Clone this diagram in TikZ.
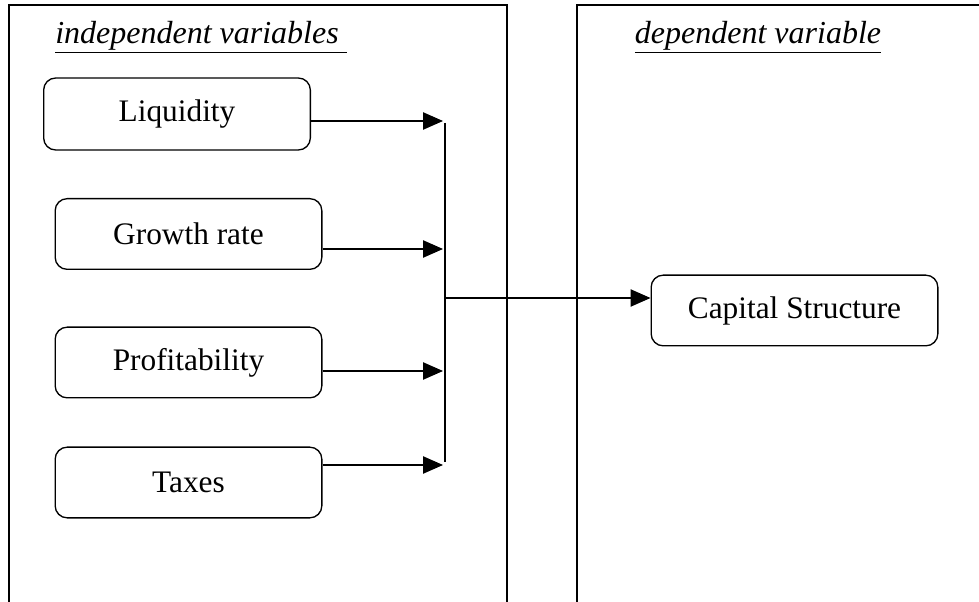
\documentclass[tikz,border=0pt]{standalone}
\usepackage{fontspec}
\setmainfont{Liberation Serif}
\usetikzlibrary{arrows.meta}
\begin{document}
\begin{tikzpicture}[x=0.75pt,y=-0.75pt]
  \tikzset{ v/.style={draw,rounded corners=9pt,line width=1pt,inner sep=0pt,
      font=\fontsize{23.5}{28}\selectfont},
    arr/.style={-{Triangle[length=15pt,width=13pt]},line width=1pt},
    panel/.style={line width=1pt},
  }
  \useasboundingbox (0,0) rectangle (979,602);
  \clip (0,0) rectangle (979,602);

  % the two panels
  \draw[panel] (9,620) -- (9,5) -- (507,5) -- (507,620);
  \draw[panel] (577,620) -- (577,5) -- (1000,5);
  \node[font=\fontsize{24}{28}\selectfont\itshape] (h1) at (201,37) {\underline{independent variables\ }};
  \node[font=\fontsize{24}{28}\selectfont\itshape] (h2) at (758,37) {\underline{dependent variable}};

  \node[v,minimum width=200pt,minimum height=54pt] (1) at (177,114) {Liquidity};
  \node[v,minimum width=200pt,minimum height=53pt] (2) at (188.5,234) {Growth rate};
  \node[v,minimum width=200pt,minimum height=53pt] (3) at (188.5,362.5) {Profitability};
  \node[v,minimum width=200pt,minimum height=53pt] (4) at (188.5,482.5) {Taxes};
  \node[v,minimum width=215pt,minimum height=53pt] (5) at (794.5,310.5) {Capital Structure};

  \coordinate (a1) at (443,121);
  \coordinate (a2) at (443,249);
  \coordinate (a3) at (443,371);
  \coordinate (a4) at (443,465);
  \coordinate (m) at (445,298);

  % the connection between the boxes
  \draw[arr] (1.east |- a1) -- (a1);
  \draw[arr] (2.east |- a2) -- (a2);
  \draw[arr] (3.east |- a3) -- (a3);
  \draw[arr] (4.east |- a4) -- (a4);
  \draw[line width=1pt] (445,123) -- (445,462);
  \draw[arr] (m) -- (5.west |- m);
\end{tikzpicture}
\end{document}
